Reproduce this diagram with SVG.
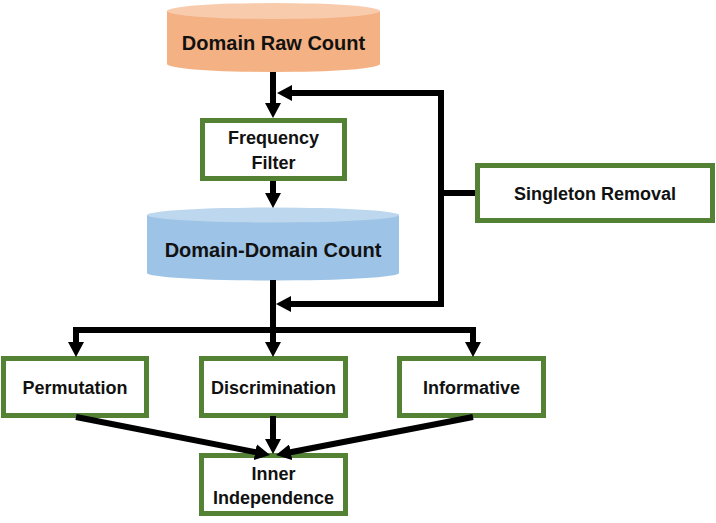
<svg xmlns="http://www.w3.org/2000/svg" width="716" height="523" viewBox="0 0 716 523">
<style>
.box{fill:#fff;stroke:#548235;stroke-width:5}
.t{font-family:"Liberation Sans",Arial,sans-serif;font-weight:bold;font-size:18px;fill:#111;text-anchor:middle}
.tc{font-size:20px}
.c{fill:none;stroke:#000;stroke-width:6;marker-end:url(#ah)}
.w{fill:none;stroke:#000;stroke-width:6}
</style>
<defs>
<marker id="ah" markerUnits="userSpaceOnUse" markerWidth="16" markerHeight="16" refX="3" refY="8" orient="auto-start-reverse" viewBox="0 0 16 16">
<path d="M0,0 L15,8 L0,16 Z" fill="#000"/>
</marker>
</defs>
<rect width="716" height="523" fill="#fff"/>
<g id="domain-raw-count">
<path d="M167,11 V64 A106.5,8 0 0 0 380,64 V11 Z" fill="#F4B183"/>
<ellipse cx="273.5" cy="11" rx="106.5" ry="8" fill="#F8CBAD"/>
<text class="t tc" x="273.5" y="50">Domain Raw Count</text>
</g>
<g id="frequency-filter">
<rect class="box" x="202.5" y="120.5" width="142" height="58"/>
<text class="t" x="273.5" y="144">Frequency</text>
<text class="t" x="273.5" y="169">Filter</text>
</g>
<g id="domain-domain-count">
<path d="M147,215 V273 A126,7.5 0 0 0 399,273 V215 Z" fill="#9DC3E6"/>
<ellipse cx="273" cy="215" rx="126" ry="7.5" fill="#BDD7EE"/>
<text class="t tc" x="273" y="257">Domain-Domain Count</text>
</g>
<g id="singleton-removal">
<rect class="box" x="477.5" y="165.5" width="235" height="55"/>
<text class="t" x="595" y="200">Singleton Removal</text>
</g>
<g id="permutation">
<rect class="box" x="3.5" y="358.5" width="143" height="57"/>
<text class="t" x="75" y="394">Permutation</text>
</g>
<g id="discrimination">
<rect class="box" x="201.5" y="358.5" width="144" height="57"/>
<text class="t" x="273.5" y="394">Discrimination</text>
</g>
<g id="informative">
<rect class="box" x="399.5" y="358.5" width="144" height="57"/>
<text class="t" x="471.5" y="394">Informative</text>
</g>
<g id="inner-independence">
<rect class="box" x="201.5" y="455.5" width="144" height="58"/>
<text class="t" x="273.5" y="480">Inner</text>
<text class="t" x="273.5" y="504">Independence</text>
</g>
<g id="connectors">
<path class="c" d="M273,72 V106"/>
<path class="c" d="M289,93 H441 V304 H288" style="marker-start:url(#ah)"/>
<path class="w" d="M475,193 H441"/>
<path class="c" d="M273,181 V196"/>
<path class="c" d="M273,280 V345"/>
<path class="c" d="M76,345 V330 H473 V345" style="marker-start:url(#ah)"/>
<path class="c" d="M273,416 V442"/>
<path class="c" d="M76,417 L258.2,452.7"/>
<path class="c" d="M473,417 L287.8,452.8"/>
</g>
</svg>
